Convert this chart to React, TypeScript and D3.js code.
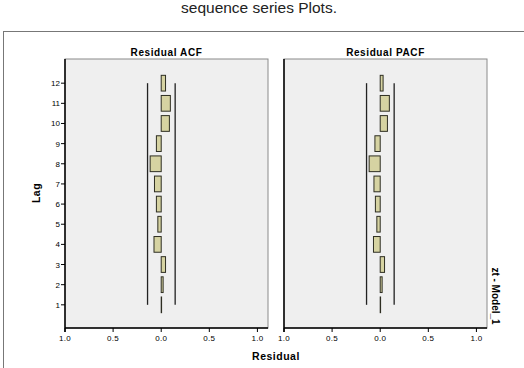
import { useRef, useEffect } from "react";
import * as d3 from "d3";

const lags = [1, 2, 3, 4, 5, 6, 7, 8, 9, 10, 11, 12];
const acfValues = [0.004, 0.02, 0.045, -0.075, -0.035, -0.05, -0.07, -0.115, -0.05, 0.085, 0.095, 0.045];
const pacfValues = [0.004, 0.02, 0.045, -0.07, -0.035, -0.05, -0.065, -0.115, -0.055, 0.075, 0.095, 0.03];
const confLower = -0.142;
const confUpper = 0.145;
const xTicks = [-1, -0.5, 0, 0.5, 1];
const xTickLabels = ["1.0", "0.5", "0.0", "0.5", "1.0"];

const panels = [
  { title: "Residual ACF", values: acfValues, left: 65 },
  { title: "Residual PACF", values: pacfValues, left: 284 },
];

export default function App() {
  const svgRef = useRef<SVGSVGElement>(null);

  useEffect(() => {
    if (!svgRef.current) return;
    const svg = d3.select(svgRef.current);
    svg.selectAll("*").remove();

    const width = 524;
    const height = 368;
    const top = 59;
    const bottom = 328;
    const panelW = 203;
    const font = "Arial, 'Liberation Sans', sans-serif";

    svg.attr("width", width).attr("height", height).attr("viewBox", `0 0 ${width} ${height}`);

    svg.append("rect").attr("width", width).attr("height", height).attr("fill", "#fff");

    // page heading above the frame
    svg.append("text")
      .attr("x", 259)
      .attr("y", 13)
      .attr("text-anchor", "middle")
      .attr("font-family", font)
      .attr("font-size", 15.5)
      .attr("fill", "#222")
      .text("sequence series Plots.");

    // outer frame
    svg.append("rect")
      .attr("x", 3.5)
      .attr("y", 31.5)
      .attr("width", 530)
      .attr("height", 350)
      .attr("fill", "none")
      .attr("stroke", "#777")
      .attr("stroke-width", 1);

    const y = d3.scaleLinear().domain([-0.15, 13.2]).range([bottom, top]);
    const half = 0.39;

    panels.forEach((p) => {
      const x = d3.scaleLinear().domain([-1, 1.11]).range([p.left, p.left + panelW]);
      const g = svg.append("g");

      g.append("rect")
        .attr("x", p.left)
        .attr("y", top)
        .attr("width", panelW)
        .attr("height", bottom - top)
        .attr("fill", "#efefef")
        .attr("stroke", "#8a8a8a")
        .attr("stroke-width", 1);

      g.append("text")
        .attr("x", p.left + panelW / 2)
        .attr("y", 56)
        .attr("text-anchor", "middle")
        .attr("font-family", font)
        .attr("font-size", 10)
        .attr("letter-spacing", 0.6)
        .attr("font-weight", "bold")
        .attr("fill", "#000")
        .text(p.title);

      // confidence limits
      [confLower, confUpper].forEach((c) => {
        const line = d3.line<number>().x(() => x(c)).y((d) => y(d));
        g.append("path")
          .attr("d", line(lags) as string)
          .attr("fill", "none")
          .attr("stroke", "#222")
          .attr("stroke-width", 1.3);
      });

      // bars
      g.selectAll(".bar")
        .data(lags)
        .enter()
        .append("rect")
        .attr("class", "bar")
        .attr("x", (d, i) => Math.min(x(0), x(p.values[i])))
        .attr("y", (d) => y(d + half))
        .attr("width", (d, i) => Math.abs(x(p.values[i]) - x(0)))
        .attr("height", (d) => y(d - half) - y(d + half))
        .attr("fill", "#d6d3a2")
        .attr("stroke", "#2e2e22")
        .attr("stroke-width", 1);

      // axes
      const xAxis = g.append("g").attr("transform", `translate(0,${bottom})`);
      xAxis.append("line")
        .attr("x1", p.left).attr("x2", p.left + panelW)
        .attr("stroke", "#000").attr("stroke-width", 1.5);
      xTicks.forEach((t, i) => {
        xAxis.append("line")
          .attr("x1", x(t)).attr("x2", x(t))
          .attr("y1", 0).attr("y2", 4)
          .attr("stroke", "#000");
        xAxis.append("text")
          .attr("x", x(t))
          .attr("y", 13)
          .attr("text-anchor", "middle")
          .attr("font-family", font)
          .attr("font-size", 8)
          .attr("letter-spacing", 0.3)
          .attr("fill", "#000")
          .text(xTickLabels[i]);
      });

      g.append("line")
        .attr("x1", p.left).attr("x2", p.left)
        .attr("y1", top).attr("y2", bottom + 4)
        .attr("stroke", "#000").attr("stroke-width", 1.5);

      if (p.left === 65) {
        lags.forEach((l) => {
          g.append("line")
            .attr("x1", p.left - 4).attr("x2", p.left)
            .attr("y1", y(l)).attr("y2", y(l))
            .attr("stroke", "#000");
          g.append("text")
            .attr("x", p.left - 5)
            .attr("y", y(l) + 3)
            .attr("text-anchor", "end")
            .attr("font-family", font)
            .attr("font-size", 8)
            .attr("fill", "#000")
            .text(l);
        });
      }
    });

    svg.append("text")
      .attr("transform", "translate(40,193) rotate(-90)")
      .attr("text-anchor", "middle")
      .attr("font-family", font)
      .attr("font-size", 10.5)
      .attr("letter-spacing", 0.5)
      .attr("font-weight", "bold")
      .text("Lag");

    svg.append("text")
      .attr("x", 276)
      .attr("y", 360)
      .attr("text-anchor", "middle")
      .attr("font-family", font)
      .attr("font-size", 10.5)
      .attr("letter-spacing", 0.5)
      .attr("font-weight", "bold")
      .text("Residual");

    svg.append("text")
      .attr("transform", "translate(492,296) rotate(90)")
      .attr("text-anchor", "middle")
      .attr("font-family", font)
      .attr("font-size", 10)
      .attr("font-weight", "bold")
      .text("zt - Model_1");
  }, []);

  return <svg ref={svgRef} style={{ position: "absolute", left: 0, top: 0, display: "block" }} />;
}
